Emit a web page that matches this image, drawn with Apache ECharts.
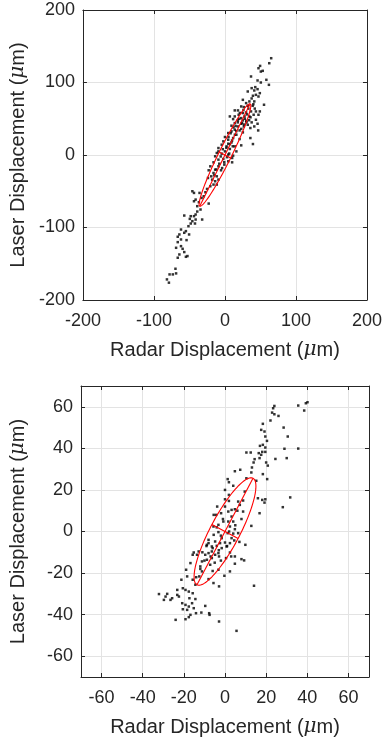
<!DOCTYPE html>
<html><head><meta charset="utf-8">
<script src="https://cdn.jsdelivr.net/npm/echarts@6/dist/echarts.min.js"></script>
<style>html,body{margin:0;padding:0;background:#fff}#c{width:385px;height:741px}</style>
</head><body><div id="c"></div>
<script>
// ---- tick labels ----
const topTicks = [-200, -100, 0, 100, 200];
const bottomTicks = [-60, -40, -20, 0, 20, 40, 60];

// ---- top panel scatter (Radar x, Laser y) ----
const topX = [65.1,62.4,49.5,47.2,50.5,53.2,36.7,45.9,58.3,61.9,50.5,42.7,37.6,45.9,41.3,32.1,49.1,43.6,47.2,39.4,
37.6,25.2,29.8,41.3,34.4,55,32.1,39,26.6,22.9,18.3,13.8,19.3,25.2,29.8,36.7,43.6,49.1,47.2,40.4,
34.4,27.5,22.9,13.8,6.9,11.5,18.3,25.2,30.3,37.6,43.6,45.9,32.1,22.9,13.8,9.2,18.3,26.6,35.8,41.3,
13.8,20.6,46.8,9.2,25.2,4.6,16.1,0,35.8,11.5,4.6,20.6,-2.3,9.2,4.6,-4.6,22.9,39.4,2.3,13.8,
-9.2,6.9,0,-9.2,16.1,-11.5,-4.6,4.6,11.5,10.1,-13.8,-2.3,-9.2,4.6,10.1,-16.1,-20.6,-9.2,-0.9,-13.8,
-5.5,-22.9,-16.1,-11.5,-19.3,-9.2,-23.9,-13.8,-16.1,-20.6,-11.5,-25.2,-27.5,-29.8,-35.8,-45.9,-43.6,-33,-41.3,-22.9,
-36.7,-43.6,-39,-34.4,-39,-41.3,-48.2,-43.6,-57.3,-49.5,-45.9,-41.3,-32.1,-42.2,-48.2,-51.4,-55,-61.9,-57.3,-50.5,
-64.2,-66.5,-61.9,-54.1,-66.5,-61.9,-68.8,-59.6,-57.3,-52.8,-66.5,-64.2,-55,-69.7,-73.4,-78,-68.8,-81.7,-78.9,
5,8,12,15,18,20,24,28,31,16,10,14,-3,-6,2,7,26,21,33,36,30,3,-8,-12,-1,6,-15,-18,-4,11,40,42,23,27,34];
const topY = [133.5,126.6,122.9,119.7,115.1,116.1,108.3,102.8,103.7,96.8,100,93.6,92.2,90.8,89,87.6,85.3,83,80.7,81.7,
78,76.1,71.6,73.9,73.9,69.3,67.9,67.9,66.1,67,61.5,61.5,55.5,57.8,58.7,60.1,60.1,60.1,55.5,55.5,
53.2,53.2,50.9,53.2,53.2,49.5,47.7,47.7,45,45,48.6,43.1,41.7,43.1,44,40.4,39.4,39.4,37.2,39.4,
34.9,33.9,33.9,32.6,31.2,30.3,28,24.8,23.4,23.4,21.1,22,18.8,17.4,15.6,14.2,13.3,15.1,11.9,11.9,
9.6,8.3,5,5,5,2.8,1.8,0.5,-0.9,-4.1,-1.8,-5.5,-6.4,-8.7,-10.1,-10.1,-15.6,-15.6,-13.3,-20.2,
-21.1,-21.1,-24.8,-29.4,-29.4,-33.9,-31.7,-36.2,-40.8,-43.1,-40.8,-46.8,-51.4,-56.9,-52.3,-50,-52.3,-59.2,-61.5,-67,
-65.1,-63.8,-70.6,-75.2,-78,-82.1,-84.4,-84.4,-83.5,-88.1,-91.3,-89,-89,-94.5,-94.5,-98.2,-105,-102.8,-107.3,-109.6,
-109.6,-112.8,-116.5,-117.4,-120.2,-125.7,-128,-129.4,-133.9,-139.4,-141.7,-137.2,-140.4,-156.9,-164.7,-164.7,-163.3,-171.6,-176.1,
25,30,38,40,45,50,44,50,56,33,20,28,8,-2,10,15,62,58,64,52,47,-3,-12,-20,-10,2,-28,-34,-18,12,70,64,36,42,48];

// ---- bottom panel scatter ----
const botX = [40.1,39.3,35.6,38.5,24,23.4,22.9,24,26,22.1,18.4,17.6,19.2,28.5,30.5,19.6,20.4,18.4,17,19.6,
28.9,35.6,18.1,19.6,10.4,12.5,16.4,17.6,14.4,16.8,13.9,20,20.8,24.5,30,13.1,4.8,7.4,12.8,18.4,
20.5,1.3,1.9,10.4,15.2,4,0,1.9,9.6,16,18.1,19.6,19.2,31.7,16.8,28.1,8.8,0,6.4,1.9,
-3.8,-1.9,-5.5,-4.3,7.2,4.8,3.2,1.6,8.8,12.8,3.2,1.6,4,-0.8,-3.2,-5.6,2.4,4.8,6.4,1.3,
-3.2,-5.5,-1.6,3.2,4.5,2.4,0,-2.4,-4.8,-8,-6.4,-4,-1.6,0.8,-8.8,-6.4,-8,-9.6,-4.8,-3.2,
2.4,0.5,4.8,8,9.3,9.9,-2.9,-6.4,-8.8,-11.2,-13.6,-12.8,-15.2,-15.7,-16.8,-12,-7.2,-3.2,-11.2,4.8,
2.4,-0.3,-18.9,-18.4,-21.2,-12.5,-8,-15.7,-14.4,-5.6,-2.9,14.1,-20.5,-19.2,-17.6,-15.7,-23.2,-23.2,-25.7,-26.5,
-28.1,-29.7,-32.1,-28.9,-22.4,-14.4,-17.3,-20.8,-19.2,-17.6,-16,-20.5,-18.4,-15.2,-9.6,-11.5,-14.1,-16.8,-17.6,-19.2,
-24,-7.7,-7.5,-2.9,5.6,
-8,-6,-10,-7,-3,-5,-12,-2,2,4,5,-1,-4,-9,-11,1,3,7,-6,-14,6,8,0,-2];
const botY = [62.2,61.7,60.6,58.2,60.4,59.3,57.2,56.4,55.6,53.4,51.8,48.9,48.1,50,45.7,45.7,43.6,41.7,41.2,40.4,
39.8,39.9,38.3,38.3,38,38,37.7,36.9,34.8,35.3,33.2,33.2,31.7,34.9,35.3,30.8,29,29.7,28.4,27.6,
25.2,25.2,23.7,25.6,24.4,22,20,17.6,19.2,16,15.2,15.5,13.9,16.4,8.8,11.7,14.9,15.5,14.4,14.7,
12,8.8,8,8,12.8,10.7,10.4,9.6,9.6,2.7,7.2,4.8,4.8,4.8,3.2,2.4,2.4,1.1,-0.8,-0.8,
-0.3,-1.6,-3.2,-3.2,-4.3,-5.6,-5.3,-5.6,-4.8,-5.6,-7.2,-6.9,-8,-7.2,-6.4,-9.6,-10.4,-11.2,-11.2,-10.4,
-10.1,-12.8,-12,-13.3,-13.9,-6.4,-12,-12.8,-13.6,-14.4,-11.2,-9.6,-10.1,-11.2,-15.2,-16.8,-16,-18.4,-19.2,-15.5,
-19.2,-21.3,-18.4,-21.6,-23.2,-21.6,-22.9,-23.2,-25.6,-24.8,-26.4,-26.1,-27.3,-28.1,-28.9,-29.7,-28.1,-30.5,-32.1,-32.9,
-30,-32.9,-30.1,-31.3,-31.3,-32.5,-32.1,-34.5,-35.3,-36.1,-34.5,-37.4,-37.7,-36.9,-35.8,-39,-39.3,-40.1,-41.2,-42.2,
-42.5,-39.3,-40.1,-43.3,-47.8,
-4,-8,-14,-12,-9,-15,-18,-2,0,-1,3,6,2,-7,-10,-7,-12,-5,-19,-22,10,6,12,-14];

// ---- fitted ellipses: [centerX, centerY, semiMajor, semiMinor, angleDeg] ----
const topEllipse = [0, 0, 79, 9, 63.3];
const botEllipse = [0, 0, 29, 7.2, 62];

const FONT = 'Liberation Sans, Arial, Helvetica, sans-serif';
const INK = '#262626';

function zip(a, b) { return a.map((v, i) => [v, b[i]]); }

function ellipseItem(params, api) {
  const cx = api.value(0), cy = api.value(1), a = api.value(2), b = api.value(3);
  const ang = api.value(4) * Math.PI / 180;
  const ca = Math.cos(ang), sa = Math.sin(ang);
  const pt = (u, v) => api.coord([cx + u * ca - v * sa, cy + u * sa + v * ca]);
  const pts = [];
  for (let i = 0; i <= 144; i++) {
    const t = i / 144 * 2 * Math.PI;
    pts.push(pt(a * Math.cos(t), b * Math.sin(t)));
  }
  const style = { stroke: '#ff0000', lineWidth: 1.1, fill: null };
  return {
    type: 'group',
    children: [
      { type: 'polyline', shape: { points: pts }, style: style },
      { type: 'polyline', shape: { points: [pt(-a, 0), pt(a, 0)] }, style: style },
      { type: 'polyline', shape: { points: [pt(0, -b), pt(0, b)] }, style: style }
    ]
  };
}

const nameStyle = {
  fontSize: 20, color: INK, fontFamily: FONT,
  rich: { mu: { fontSize: 20, fontStyle: 'italic', fontFamily: 'DejaVu Serif, serif', color: INK } }
};

function mainAxis(dim, g, ticks, min, max, name) {
  const isX = dim === 'x';
  return {
    type: 'value', gridIndex: g, min: min, max: max,
    position: isX ? 'bottom' : 'left',
    axisLine: { show: true, onZero: false, lineStyle: { color: INK, width: 1 } },
    axisTick: { show: true, inside: true, length: 4, customValues: ticks, lineStyle: { color: INK, width: 1 } },
    axisLabel: { customValues: ticks, color: INK, fontSize: 18, fontFamily: FONT, margin: isX ? 12 : 8 },
    splitLine: { show: true, lineStyle: { color: '#e3e3e3', width: 1 } },
    name: name, nameLocation: 'middle', nameGap: isX ? 40 : 53,
    nameTextStyle: nameStyle
  };
}
function boxAxis(dim, g, ticks, min, max) {
  const isX = dim === 'x';
  return {
    type: 'value', gridIndex: g, min: min, max: max,
    position: isX ? 'top' : 'right',
    axisLine: { show: true, onZero: false, lineStyle: { color: INK, width: 1 } },
    axisTick: { show: true, inside: true, length: 4, customValues: ticks, lineStyle: { color: INK, width: 1 } },
    axisLabel: { show: false },
    splitLine: { show: false }
  };
}

const xName = 'Radar Displacement ({mu|\u03bc}m)';
const yName = 'Laser Displacement ({mu|\u03bc}m)';

const option = {
  animation: false,
  backgroundColor: '#ffffff',
  grid: [
    { left: 78, top: 10, width: 291, height: 290 },
    { left: 78, top: 386, width: 291, height: 291 }
  ],
  xAxis: [
    mainAxis('x', 0, topTicks, -200, 200, xName),
    boxAxis('x', 0, topTicks, -200, 200),
    mainAxis('x', 1, bottomTicks, -70, 70, xName),
    boxAxis('x', 1, bottomTicks, -70, 70)
  ],
  yAxis: [
    mainAxis('y', 0, topTicks, -200, 200, yName),
    boxAxis('y', 0, topTicks, -200, 200),
    mainAxis('y', 1, bottomTicks, -70, 70, yName),
    boxAxis('y', 1, bottomTicks, -70, 70)
  ],
  series: [
    { type: 'scatter', xAxisIndex: 0, yAxisIndex: 0, data: zip(topX, topY),
      symbol: 'rect', symbolSize: 2.5, itemStyle: { color: '#000000' }, silent: true },
    { type: 'custom', xAxisIndex: 0, yAxisIndex: 0, data: [topEllipse],
      dimensions: ['cx', 'cy', 'a', 'b', 'ang'], encode: { x: 0, y: 1 },
      renderItem: ellipseItem, silent: true, z: 5 },
    { type: 'scatter', xAxisIndex: 2, yAxisIndex: 2, data: zip(botX, botY),
      symbol: 'rect', symbolSize: 2.5, itemStyle: { color: '#000000' }, silent: true },
    { type: 'custom', xAxisIndex: 2, yAxisIndex: 2, data: [botEllipse],
      dimensions: ['cx', 'cy', 'a', 'b', 'ang'], encode: { x: 0, y: 1 },
      renderItem: ellipseItem, silent: true, z: 5 }
  ]
};
const chart = echarts.init(document.getElementById('c'), null, { renderer: 'canvas' });
chart.setOption(option);
</script>
</body></html>
